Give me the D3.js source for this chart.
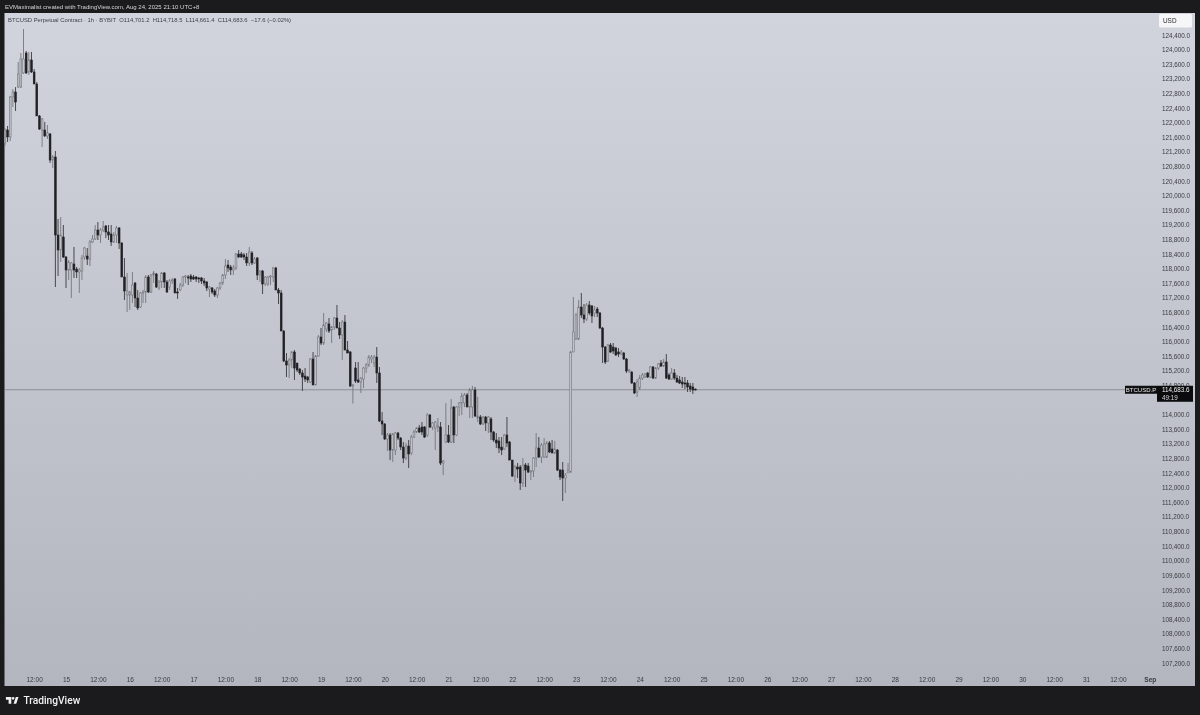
<!DOCTYPE html>
<html><head><meta charset="utf-8">
<script src="https://cdn.jsdelivr.net/npm/d3@7/dist/d3.min.js"></script>
<style>html,body{margin:0;padding:0;background:#1b1b1d;overflow:hidden}svg{display:block;filter:blur(0.3px)}
text{font-family:"Liberation Sans",Arial,sans-serif}</style></head><body>
<svg id="c" width="1200" height="715"></svg>
<script>
const firstHour = 1; // hours after Aug 14 00:00 (chart timezone)
const opens = [121442,121798,121607,122703,122839,122976,122976,123360,123907,123387,
123716,123387,123058,122182,121798,121798,121634,121689,120975,121059,
118922,118511,118868,118320,117964,117964,118128,117991,117909,117936,
118320,118347,118265,118731,118813,119059,118922,119059,119169,119005,
118950,118731,118922,119114,118703,117772,117279,117279,117279,117607,
117197,116950,117334,117361,117772,117361,117827,117854,117471,117635,
117882,117635,117498,117663,117717,117361,117416,117553,117772,117772,
117799,117772,117772,117745,117745,117663,117635,117443,117471,117389,
117279,117471,117607,117827,118101,118046,117964,118019,118402,118402,
118375,118320,118156,118430,118156,118292,117827,117936,117580,117580,
117772,117772,118019,117416,117334,116293,115471,115362,115498,115718,
115416,115252,115143,115060,115033,114896,115526,114814,115608,116129,
115964,116348,116485,116320,116402,116649,116375,116183,116539,115772,
115718,114787,115279,114951,114896,114978,115279,115362,115526,115416,
115581,115143,113828,113746,113335,113444,113033,113033,113499,113362,
113115,112814,113143,112951,113389,113527,113636,113663,113663,113444,
113992,113663,113636,113663,113663,112677,113253,113444,113253,114211,
113444,114211,114321,114321,114540,114211,114211,114677,113910,113937,
113746,113937,113773,113883,113527,113307,113280,113115,113061,113444,
113253,112759,112321,112568,112568,112130,112622,112595,112430,112458,
112814,113088,112841,112841,112841,113225,113061,112951,113033,112485,
112485,112266,112404,112430,115718,116074,116074,116950,116731,116622,
117005,116978,116786,116895,116786,116375,115854,115471,115909,115854,
115827,115718,115663,115690,115526,115197,115170,114869,114622,114732,
115005,115033,115143,115033,115307,115005,115279,115416,115334,115444,
115088,114978,115143,115005,114951,114896,114869,114869,114787,114759,
114701.2];
const highs = [121850,121908,122730,122921,122973,123661,123907,124565,123962,123935,
123935,123469,123113,122209,122127,122018,121935,121716,121114,121223,
119361,119415,119196,118347,118237,118183,118594,118046,118019,118375,
118594,118566,118785,118922,119196,119278,119114,119306,119196,119196,
119196,119005,119169,119141,118730,118292,117882,117389,117909,117635,
117416,117361,117416,117827,117827,117854,117936,117882,117690,117909,
117909,117690,117717,117745,117745,117471,117607,117799,117827,117827,
117854,117827,117799,117772,117772,117745,117663,117526,117498,117443,
117498,117635,117854,118265,118237,118101,118101,118430,118511,118457,
118430,118430,118594,118484,118320,118320,117964,117964,117799,117799,
117827,118046,118046,117471,117416,116320,115690,115553,115745,115772,
115416,115279,115225,115279,115060,115553,115718,115636,116183,116375,
116786,116539,116649,116430,116676,117005,116539,116594,116731,116019,
115745,114841,115444,115444,115033,115307,115416,115636,115636,115636,
115854,115307,114074,113773,113499,113499,113499,113527,113527,113389,
113253,113225,113307,113444,113581,113663,113718,113800,113691,114047,
114019,113800,113828,113910,113800,112759,114321,113718,114431,114239,
114239,114348,114595,114595,114595,114732,114787,114759,114485,113992,
113965,113965,113965,113937,113554,113499,113389,113389,113472,113937,
113280,112759,112622,112677,112622,112814,112677,112677,112485,112841,
113499,113389,113225,113362,113280,113280,113307,113280,113061,112513,
112705,112403,112677,115745,117224,116786,117142,117334,117032,117060,
117115,117005,116978,116950,116813,116402,115882,115937,115964,115964,
115854,115827,115772,115718,115553,115252,115197,114896,114978,115088,
115143,115143,115170,115334,115334,115307,115416,115498,115526,115663,
115143,115279,115252,115088,115060,115033,115033,114951,114869,114869,
114718.5];
const lows = [121360,121470,121497,122428,122319,122949,122949,123332,123332,123305,
123360,123058,122182,121798,121333,121607,121552,120894,120758,117498,
117799,118183,118292,117471,117690,117197,117745,117745,117334,117690,
118237,118101,118073,118703,118785,118785,118703,119005,118840,118785,
118621,118703,118703,118539,117772,117142,116813,116868,117060,116950,
116868,116923,117060,117060,117334,117334,117607,117471,117416,117471,
117471,117334,117416,117580,117334,117170,117389,117498,117607,117553,
117635,117690,117635,117607,117580,117526,117389,117224,117307,117224,
117197,117416,117553,117717,117909,117827,117827,117964,118292,118292,
118237,118073,118073,118101,118128,117690,117635,117307,117526,117526,
117553,117635,117416,117032,116293,115444,115033,115005,115279,114951,
115170,115088,114650,114896,114869,114869,114814,114814,115581,115909,
115909,116265,116238,115964,116320,116375,116074,115498,115772,115690,
114759,114307,114869,114869,114595,114732,115143,115307,115416,115307,
114869,113800,113444,113307,113006,112759,112705,112896,113307,113033,
112677,112759,112540,112896,113362,113499,113499,113444,113362,113389,
113636,113581,113033,113527,112622,112348,113225,113225,113225,113225,
113417,113965,113992,114211,114211,113910,113910,113937,113800,113718,
113718,113554,113499,113307,113253,113088,112951,112896,113033,113115,
112759,112294,112157,112266,111938,112021,112021,112404,112211,112294,
112568,112814,112677,112814,112814,112951,112951,112924,112458,112211,
111637,111856,112404,112404,115718,116046,116046,116649,116512,116567,
116731,116512,116676,116676,116348,115416,115389,115444,115690,115663,
115608,115581,115636,115498,115143,115143,114841,114568,114485,114677,
114951,115005,115005,115005,114978,114978,115225,115307,115307,114978,
114951,114951,114951,114869,114841,114732,114705,114622,114622,114568,
114661.4];
const closes = [121798,121607,122703,122839,122565,123332,123743,123743,123360,123716,
123387,123058,122182,121826,122100,121634,121716,120975,121059,118922,
118511,118922,118320,117964,118183,118156,117964,117909,117964,118292,
118566,118265,118731,118813,119059,118922,119059,119141,119005,118922,
118731,118922,119114,118703,117772,117389,117389,117361,117553,117197,
116923,117334,117361,117772,117361,117827,117882,117498,117635,117882,
117635,117361,117663,117690,117334,117334,117553,117772,117799,117745,
117717,117717,117717,117717,117663,117607,117471,117498,117361,117279,
117471,117607,117827,118073,118019,117964,118019,118402,118320,118320,
118320,118156,118457,118156,118265,117827,117909,117580,117772,117772,
117799,118019,117416,117334,116293,115471,115362,115498,115718,115279,
115225,115143,115033,114978,114951,115526,114814,115608,116129,115964,
116457,116512,116293,116402,116649,116375,116183,116539,115772,115690,
114787,114814,114923,114896,115005,115279,115362,115581,115581,115581,
115143,113828,113746,113335,113444,113033,113472,113499,113362,113115,
112814,113143,112924,113389,113527,113636,113527,113527,113389,113992,
113663,113773,113800,113691,112677,112732,113444,113253,114184,113444,
114211,114321,114513,114540,114211,114677,114677,113965,113965,113746,
113937,113773,113937,113527,113307,113225,113088,113033,113444,113225,
112759,112321,112568,112513,112130,112622,112485,112430,112458,112814,
113088,112841,113170,113198,113225,112979,112951,113061,112485,112294,
112266,112348,112485,115718,116266,116731,116950,116731,116622,117005,
116786,116704,116868,116786,116375,115854,115444,115909,115718,115745,
115636,115663,115718,115526,115197,115225,114869,114595,114896,115005,
115088,115115,115033,115307,115005,115279,115389,115334,115444,115005,
114978,115143,115005,114896,114869,114841,114841,114759,114705,114677,
114683.6];

const priceTicks = [124400,124000,123600,123200,122800,122400,122000,121600,121200,120800,120400,120000,119600,119200,118800,118400,118000,117600,117200,116800,116400,116000,115600,115200,114800,114000,113600,113200,112800,112400,112000,111600,111200,110800,110400,110000,109600,109200,108800,108400,108000,107600,107200];
const timeTickHours = [12,24,36,48,60,72,84,96,108,120,132,144,156,168,180,192,204,216,228,240,252,264,276,288,300,312,324,336,348,360,372,384,396,408,420,432];
const timeTickLabels = ["12:00","15","12:00","16","12:00","17","12:00","18","12:00","19","12:00","20","12:00","21","12:00","22","12:00","23","12:00","24","12:00","25","12:00","26","12:00","27","12:00","28","12:00","29","12:00","30","12:00","31","12:00","Sep"];
const lastPrice = 114683.6;
const headerText = "EVMaximalist created with TradingView.com, Aug 24, 2025 21:10 UTC+8";
const legendText = "BTCUSD Perpetual Contract · 1h · BYBIT  O114,701.2  H114,718.5  L114,661.4  C114,683.6  −17.6 (−0.02%)";

const W=1200,H=715, L=4.5,R=1195,T=13,B=686;
const svg=d3.select("#c");
const defs=svg.append("defs");
const g=defs.append("linearGradient").attr("id","bg").attr("x1",0).attr("y1",0).attr("x2",0).attr("y2",1);
g.append("stop").attr("offset","0%").attr("stop-color","#d1d4dc");
g.append("stop").attr("offset","100%").attr("stop-color","#b3b6be");
defs.append("clipPath").attr("id","plot").append("rect").attr("x",L).attr("y",T).attr("width",R-L).attr("height",B-T);

svg.append("rect").attr("width",W).attr("height",H).attr("fill","#1b1b1d");
svg.append("rect").attr("x",L).attr("y",T).attr("width",R-L).attr("height",B-T).attr("fill","url(#bg)");

const x=d3.scaleLinear().domain([24,264]).range([66,703.5]);
const y=d3.scaleLinear().domain([107200,124400]).range([663,35]);

const candles=opens.map((o,i)=>({t:firstHour+i,o,h:Math.max(highs[i],o,closes[i]),l:Math.min(lows[i],o,closes[i]),c:closes[i]}));
const plot=svg.append("g").attr("clip-path","url(#plot)");
const upWick="#6e7177",downWick="#303034",upFill="#c4c6cc",downFill="#202024";

// last-price line
plot.append("line").attr("x1",L).attr("x2",1125).attr("y1",y(lastPrice)).attr("y2",y(lastPrice)).attr("stroke","#77797e").attr("stroke-width",0.7);

const cg=plot.selectAll("g.c").data(candles).join("g");
cg.append("line").attr("x1",d=>x(d.t)).attr("x2",d=>x(d.t)).attr("y1",d=>y(d.h)).attr("y2",d=>y(d.l))
  .attr("stroke",d=>d.c>=d.o?upWick:downWick).attr("stroke-width",0.85);
cg.append("rect").attr("x",d=>x(d.t)-0.9).attr("width",1.8)
  .attr("y",d=>y(Math.max(d.o,d.c))).attr("height",d=>Math.max(0.8,Math.abs(y(d.o)-y(d.c))))
  .attr("fill",d=>d.c>=d.o?upFill:downFill).attr("stroke",d=>d.c>=d.o?"#6e7177":downFill).attr("stroke-width",0.55);

// price axis
const yAxis=d3.axisRight(y).tickValues(priceTicks).tickSize(0).tickPadding(0).tickFormat(d3.format(",.1f"));
const ya=svg.append("g").attr("transform","translate(1162,0)").call(yAxis);
ya.select(".domain").remove();
ya.selectAll("text").attr("font-size",6.3).attr("fill","#3a3b40").attr("font-family","Liberation Sans");

// time axis
const xAxis=d3.axisBottom(x).tickValues(timeTickHours).tickSize(0).tickPadding(0).tickFormat((d,i)=>timeTickLabels[i]);
const xa=svg.append("g").attr("transform","translate(0,677.6)").call(xAxis);
xa.select(".domain").remove();
xa.selectAll("text").attr("font-size",6.5).attr("fill","#3a3b40").attr("font-family","Liberation Sans")
  .attr("font-weight",(d,i)=>timeTickLabels[i]==="Sep"?"bold":"normal");

// USD box
svg.append("rect").attr("x",1159).attr("y",14).attr("width",33).attr("height",13.5).attr("rx",1.5).attr("fill","#f6f6f8");
svg.append("text").attr("x",1163).attr("y",23).attr("font-size",6.4).attr("fill","#2a2a2e").text("USD");

// price tag
const py=y(lastPrice);
svg.append("rect").attr("x",1125).attr("y",py-4).attr("width",32).attr("height",8).attr("fill","#101012");
svg.append("text").attr("x",1141).attr("y",py+2.3).attr("text-anchor","middle").attr("font-size",6).attr("fill","#e8e8ea").text("BTCUSD.P");
svg.append("rect").attr("x",1157).attr("y",py-4).attr("width",36).attr("height",16).attr("fill","#0b0b0d");
svg.append("text").attr("x",1162).attr("y",py+2.4).attr("font-size",6.3).attr("fill","#f0f0f2").text(d3.format(",.1f")(lastPrice));
svg.append("text").attr("x",1162).attr("y",py+10).attr("font-size",6.3).attr("fill","#d8d8da").text("49:19");

// header + legend
svg.append("text").attr("x",5).attr("y",9).attr("font-size",6.03).attr("fill","#d6d6d8").text(headerText);
svg.append("text").attr("x",8).attr("y",22.4).attr("font-size",5.85).attr("fill","#3f4046").style("white-space","pre").text(legendText);

// TradingView mark
svg.append("path").attr("transform","translate(5,694.3) scale(0.45)").attr("fill","#f2f2f2")
  .attr("d","M14 6H2v6h6v9h6V6zm5 15h6l5-15h-6l-5 15zm-1-15a3 3 0 1 1 0 6 3 3 0 0 1 0-6z");
svg.append("text").attr("x",23.5).attr("y",704.3).attr("font-size",10.2).attr("font-weight","500").attr("fill","#f2f2f2").style("font-family","Roboto,Liberation Sans").text("TradingView");
</script></body></html>
